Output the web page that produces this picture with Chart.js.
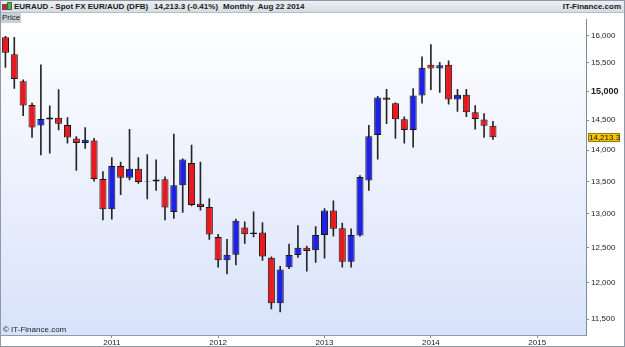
<!DOCTYPE html>
<html>
<head>
<meta charset="utf-8">
<script src="https://cdn.jsdelivr.net/npm/chart.js@4.4.1/dist/chart.umd.min.js"></script>
<style>
  html, body { margin: 0; padding: 0; background: #fff; }
  #wrap { position: relative; width: 625px; height: 347px; overflow: hidden;
          font-family: "Liberation Sans", Arial, sans-serif; }
  #head { position: absolute; left: 0; top: 0; width: 625px; height: 13px;
          background: linear-gradient(#eef1f4, #d5dce2); border-bottom: 1px solid #b4bec8;
          box-sizing: border-box; font-size: 8px; font-weight: bold; color: #1a1a1a; }
  #head span { position: absolute; top: 1px; line-height: 11px; white-space: nowrap; }
  #head i { position: absolute; display: block; border: 1px solid #555; box-sizing: border-box; }
  #chartBox { position: absolute; left: 0; top: 13px; width: 625px; height: 334px; }
  #price { position: absolute; left: 1px; top: 13px; width: 20px; height: 10px; background: #c6d0d9;
           font-size: 8px; line-height: 10px; color: #222; text-align: center; }
  #copy { position: absolute; left: 3px; top: 325px; font-size: 8px; color: #222; }
  #frame { position: absolute; left: 0; top: 0; width: 625px; height: 347px;
           border: 1px solid #8e9ba7; box-sizing: border-box; pointer-events: none; }
</style>
</head>
<body>
<div id="wrap">
  <div id="head">
    <i style="left:2px;top:4px;width:5px;height:6px;background:#e8191f;"></i>
    <i style="left:7px;top:2px;width:5px;height:8px;background:#3cc23c;"></i>
    <span style="left:14px;">EURAUD - Spot FX EUR/AUD (DFB)</span>
    <span style="left:154px;">14,213.3 (-0.41%)</span>
    <span style="left:223px;">Monthly&nbsp; Aug 22 2014</span>
    <span style="right:4px;">IT-Finance.com</span>
  </div>
  <div id="chartBox"><canvas id="chart" width="625" height="334"></canvas></div>
  <div id="price">Price</div>
  <div id="copy">© IT-Finance.com</div>
  <div id="frame"></div>
</div>

<script>
// ---------------------------------------------
// Data (monthly EUR/AUD, Jan 2010 - Aug 2014)
// ---------------------------------------------

const startYear = 2010;

const opens = [15970, 15660, 15175, 14760, 14410, 14510, 14540, 14420, 14195, 14120, 14160, 13540,
  13070, 13745, 13560, 13700, 13495, 13500, 13535, 13030, 13440, 13795, 13155, 13105,
  12655, 12315, 12395, 12795, 12700, 12720, 12350, 11715, 12215, 12390, 12495, 12460,
  12685, 13050, 12785, 12295, 12675, 13515, 14250, 14890, 14790, 14515, 14335, 14925,
  15470, 15400, 15470, 14855, 14935, 14635, 14510, 14405];

const highs = [15990, 15970, 15200, 14790, 15465, 14745, 15025, 14545, 14225, 14375, 14195, 13655,
  13880, 13810, 14345, 13880, 13930, 13845, 13575, 14265, 13860, 14085, 13810, 13235,
  12695, 12620, 12920, 12880, 13030, 12870, 12365, 12230, 12550, 12825, 12520, 12810,
  13080, 13200, 12860, 12775, 13595, 14415, 14910, 15030, 14795, 14555, 15045, 15610,
  15835, 15510, 15540, 15030, 15030, 14750, 14610, 14480];

const lows = [15420, 15045, 14575, 14210, 13925, 13955, 14335, 14115, 13675, 14030, 13505, 12910,
  12920, 13295, 13525, 13470, 13230, 13360, 12910, 12930, 13020, 13120, 13055, 12620,
  12215, 12120, 12250, 12560, 12655, 12315, 11635, 11595, 12195, 12355, 12160, 12285,
  12345, 12665, 12215, 12215, 12665, 13360, 13855, 14440, 14195, 14115, 14050, 14790,
  15025, 14975, 14775, 14650, 14560, 14350, 14210, 14180];

const closes = [15685, 15215, 14750, 14375, 14520, 14545, 14440, 14210, 14120, 14175, 13540, 13070,
  13745, 13560, 13700, 13490, 13505, 13530, 13095, 13440, 13850, 13135, 13105, 12690,
  12315, 12395, 12895, 12695, 12720, 12370, 11715, 12185, 12390, 12495, 12450, 12685,
  13050, 12775, 12295, 12685, 13570, 14230, 14890, 14850, 14515, 14335, 14925, 15415,
  15400, 15460, 14855, 14935, 14635, 14520, 14405, 14213.3];

const yearLabels = ["2011", "2012", "2013", "2014", "2015"];
const priceTicks = [11500, 12000, 12500, 13000, 13500, 14000, 14500, 15000, 15500, 16000];

const monthNames = ["Jan", "Feb", "Mar", "Apr", "May", "Jun", "Jul", "Aug", "Sep", "Oct", "Nov", "Dec"];
const months = opens.map((_, i) => monthNames[i % 12] + " " + (startYear + Math.floor(i / 12)));

// ---------------------------------------------
// Helpers
// ---------------------------------------------

const UP = "#1e22e6";
const DOWN = "#e8191f";
const FONT = "'Liberation Sans', Arial, sans-serif";

function candleColor(i) {
  return closes[i] >= opens[i] ? UP : DOWN;
}

function fmt(v) {
  return Number(v).toLocaleString("en-US");
}

const bgPlugin = {
  id: "bg",
  beforeDraw(chart) {
    const { ctx, chartArea: a } = chart;
    const g = ctx.createLinearGradient(0, a.top, 0, a.bottom);
    g.addColorStop(0, "#ffffff");
    g.addColorStop(1, "#d8e2fa");
    ctx.save();
    ctx.fillStyle = g;
    ctx.fillRect(a.left, a.top, a.right - a.left, a.bottom - a.top);
    ctx.restore();
  }
};

const lastPricePlugin = {
  id: "lastPrice",
  afterDraw(chart) {
    const { ctx, chartArea: a } = chart;
    const last = closes[closes.length - 1];
    const y = Math.round(chart.scales.y.getPixelForValue(last));
    ctx.save();
    ctx.fillStyle = "#f7c600";
    ctx.strokeStyle = "#9a7d00";
    ctx.lineWidth = 1;
    ctx.fillRect(a.right + 2, y - 4, 32, 9);
    ctx.strokeRect(a.right + 2.5, y - 3.5, 31, 8);
    ctx.fillStyle = "#111";
    ctx.font = "8px " + FONT;
    ctx.textBaseline = "middle";
    ctx.fillText(fmt(last), a.right + 3, y + 0.5);
    ctx.restore();
  }
};

// ---------------------------------------------
// Build chart
// ---------------------------------------------

new Chart(document.getElementById("chart"), {
  type: "bar",
  data: {
    labels: months,
    datasets: [
      {
        label: "Body",
        data: opens.map((o, i) => ({ x: i, y: [o, closes[i]] })),
        backgroundColor: opens.map((_, i) => candleColor(i)),
        borderColor: "#141414",
        borderWidth: 1,
        borderSkipped: false,
        barPercentage: 0.8,
        categoryPercentage: 1,
        grouped: false,
        order: 0
      },
      {
        label: "Wick",
        data: highs.map((h, i) => ({ x: i, y: [lows[i], h] })),
        backgroundColor: "#262626",
        borderWidth: 0,
        barThickness: 1,
        grouped: false,
        order: 1
      }
    ]
  },
  options: {
    responsive: false,
    animation: false,
    devicePixelRatio: 1,
    layout: { padding: { left: 1, right: 0, top: 0, bottom: 0 } },
    plugins: {
      legend: { display: false },
      tooltip: { enabled: false }
    },
    scales: {
      x: {
        type: "linear",
        min: -0.5,
        max: 65.5,
        offset: false,
        grid: { offset: false, drawOnChartArea: false, drawTicks: true, tickLength: 3, color: "#7f8c99" },
        border: { display: true, color: "#8e9ba7" },
        ticks: {
          autoSkip: false,
          maxRotation: 0,
          padding: 0,
          color: "#222",
          font: { size: 8, family: FONT },
          callback: v => String(startYear + v / 12)
        },
        afterBuildTicks: s => {
          s.ticks = yearLabels.map(y => ({ value: (Number(y) - startYear) * 12 }));
        },
        afterFit: s => { s.height = 12; }
      },
      y: {
        type: "logarithmic",
        position: "right",
        min: 11288,
        max: 16300,
        grid: { drawOnChartArea: false, drawTicks: true, tickLength: 3, color: "#7f8c99" },
        border: { display: true, color: "#7f8c99" },
        ticks: {
          padding: 2,
          color: "#222",
          font: ctx => (ctx.tick && ctx.tick.value === 15000)
            ? { size: 9, weight: "bold", family: FONT }
            : { size: 8, family: FONT },
          callback: v => fmt(v)
        },
        afterBuildTicks: s => {
          s.ticks = priceTicks.map(v => ({ value: v }));
        },
        afterFit: s => { s.width = 39; }
      }
    }
  },
  plugins: [bgPlugin, lastPricePlugin]
});
</script>
</body>
</html>
